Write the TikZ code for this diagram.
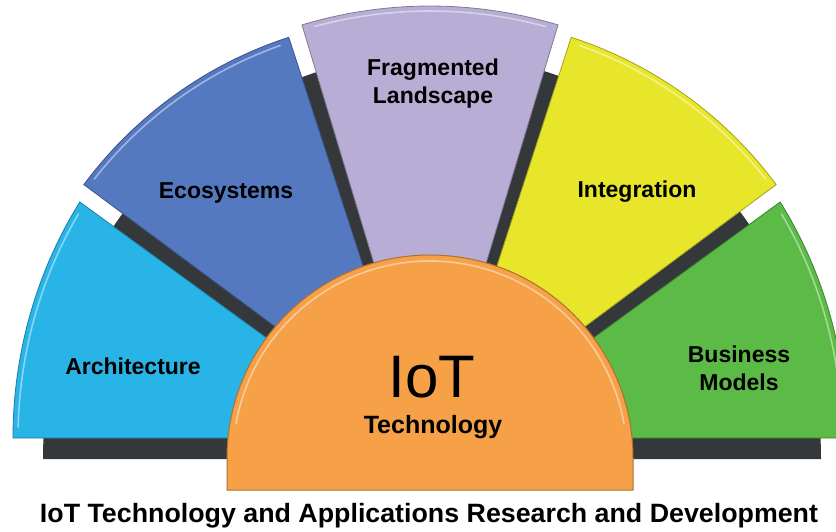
\documentclass[tikz,border=0pt]{standalone}
\usepackage{fontspec}
\setmainfont{Liberation Sans}
\usepackage{graphicx}
\definecolor{archc}{HTML}{29B4E8}
\definecolor{ecoc}{HTML}{5479C1}
\definecolor{fragc}{HTML}{B8AED5}
\definecolor{integc}{HTML}{E8E62A}
\definecolor{busc}{HTML}{5CBA46}
\definecolor{iotc}{HTML}{F6A047}
\definecolor{shadowc}{HTML}{35383A}
\tikzset{
  seglabel/.style={font=\fontsize{23}{28}\selectfont\bfseries, text=black, inner sep=0pt, anchor=base},
  segfill/.style={fill=#1, draw=#1!70!black, line width=0.8pt},
  seghigh/.style={draw=#1!55!white, line width=1.6pt, line cap=round},
}
% apex x, apex y, smaller visual angle, larger visual angle, x radius, y radius, colour
\newcommand\fanseg[7]{%
  \filldraw[segfill=#7] (#1,#2) -- ++({(#5)*cos(#3)},{-(#6)*sin(#3)}) arc[start angle={-(#3)}, end angle={-(#4)}, x radius=#5, y radius=#6] -- cycle;
  \draw[seghigh=#7] (#1,#2) ++({(#5-5)*cos(#3+1.5)},{-(#6-5)*sin(#3+1.5)}) arc[start angle={-(#3+1.5)}, end angle={-(#4-1.5)}, x radius={#5-5}, y radius={#6-5}];
}
\begin{document}
\begin{tikzpicture}[x=1pt,y=-1pt]
\useasboundingbox (0,0) rectangle (836,531);
\clip (0,0) rectangle (836,531);
\fill[white] (0,0) rectangle (836,531);
% base shadow
\fill[shadowc] (43,459) arc[start angle=-180, end angle=0, x radius=389, y radius=405] -- cycle;
% fan segments
\fanseg{404}{438}{146}{180}{391}{422}{archc}
\fanseg{417}{432}{108}{143.4}{415}{415}{ecoc}
\fanseg{430}{449}{73.2}{106.8}{443}{443}{fragc}
\fanseg{443}{432}{36.6}{72}{415}{415}{integc}
\fanseg{456}{438}{0}{34}{391}{422}{busc}
% centre
\filldraw[fill=iotc, draw=iotc!70!black, line width=1pt] (227,490) -- (227,458) arc[start angle=-180, end angle=0, radius=203] -- (633,490) -- cycle;
\draw[iotc!55!white, line width=1.6pt, line cap=round] (430,458) ++(-170:197) arc[start angle=-170, end angle=-10, radius=197];
% labels
\node[seglabel] (arch) at (133,374) {Architecture};
\node[seglabel] (eco) at (226,198) {Ecosystems};
\node[seglabel] (frag) at (433,75) {\begin{tabular}[t]{@{}c@{}}Fragmented\\Landscape\end{tabular}};
\node[seglabel] (integ) at (637,197) {Integration};
\node[seglabel] (bus) at (739,362) {\begin{tabular}[t]{@{}c@{}}Business\\Models\end{tabular}};
\node[anchor=base, inner sep=0pt, font=\fontsize{60}{60}\selectfont] (iot) at (432,397) {IoT};
\node[anchor=base, inner sep=0pt, font=\fontsize{25}{28}\selectfont\bfseries] (tech) at (433,433) {Technology};
\node[anchor=base, inner sep=0pt] (title) at (429,522) {\resizebox{778pt}{\height}{\fontsize{26.5}{30}\selectfont\bfseries IoT Technology and Applications Research and Development}};
\end{tikzpicture}
\end{document}
